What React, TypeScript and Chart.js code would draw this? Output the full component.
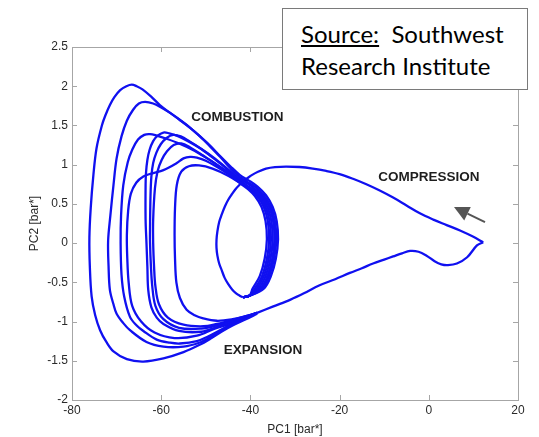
import React, { useEffect, useRef } from "react";
import { Chart, registerables } from "chart.js";

Chart.register(...registerables);

type P = [number, number];

// ---- axes ----
const xTicks = [-80, -60, -40, -20, 0, 20];
const yTicks = [-2, -1.5, -1, -0.5, 0, 0.5, 1, 1.5, 2, 2.5];
const xTitle = "PC1 [bar*]";
const yTitle = "PC2 [bar*]";

// ---- shared compression / expansion strokes ----
const compressionPath: P[] = [
  [12.2, 0.01], [10, 0.08], [7, 0.16], [4, 0.23], [1, 0.3], [-2, 0.38], [-5, 0.48], [-8, 0.58],
  [-11, 0.67], [-14, 0.75], [-17, 0.82], [-20, 0.88], [-23, 0.92], [-26, 0.95], [-29, 0.97],
  [-32, 0.975], [-34.5, 0.97], [-36.5, 0.95], [-38.3, 0.91], [-39.6, 0.87], [-40.6, 0.83], [-41.5, 0.79],
  [-42.3, 0.75], [-43.3, 0.69], [-44.2, 0.62], [-45, 0.55], [-45.7, 0.47], [-46.4, 0.37], [-47, 0.27],
  [-47.4, 0.15], [-47.6, 0.04], [-47.6, -0.06], [-47.4, -0.16], [-47, -0.26], [-46.4, -0.35],
  [-45.8, -0.44], [-45, -0.52], [-44.1, -0.59], [-43.2, -0.64], [-42.4, -0.67], [-41.7, -0.69],
];

const expansionPath: P[] = [
  [-38.5, -0.89], [-35, -0.81], [-31, -0.72], [-28, -0.64], [-24.6, -0.54], [-21, -0.46], [-17.7, -0.38],
  [-15, -0.32], [-12.5, -0.26], [-10, -0.21], [-8, -0.17], [-6, -0.13], [-4.2, -0.1], [-2.3, -0.11],
  [-0.5, -0.16], [1.3, -0.23], [2.8, -0.27], [4.3, -0.28], [6.3, -0.26], [8.6, -0.18], [10.8, -0.03],
  [12.2, 0.01],
];

// ---- individual cycles (inner ellipse right side + combustion loop) ----
const cycle1: P[] = [
  [-41.7, -0.69], [-40.2, -0.67], [-37, -0.58], [-35.4, -0.42], [-34.3, -0.2], [-33.8, 0.05], [-34.1, 0.28],
  [-35, 0.46], [-36.5, 0.61], [-38.4, 0.72], [-40.4, 0.8], [-42.4, 0.87], [-44.5, 0.98], [-46.8, 1.11],
  [-49, 1.24], [-51.3, 1.36], [-53.5, 1.47], [-55.8, 1.57], [-58, 1.66], [-60.3, 1.76], [-62.3, 1.87],
  [-64.2, 1.96], [-65.5, 2.0], [-66.6, 2.02], [-67.8, 2.0], [-69.2, 1.95], [-70.5, 1.86], [-71.5, 1.76],
  [-72.5, 1.63], [-73.3, 1.5], [-74.5, 1.21], [-75.2, 0.87], [-75.8, 0.45], [-76.1, 0.07], [-76, -0.3],
  [-75.6, -0.68], [-74.8, -0.92], [-73.7, -1.11], [-72.3, -1.26], [-70.7, -1.38], [-67.7, -1.48],
  [-64, -1.51], [-59.5, -1.47], [-55, -1.39], [-51.5, -1.3], [-49, -1.22], [-46.5, -1.13], [-44, -1.05],
  [-41, -0.97], [-38.5, -0.9],
];

const cycle2: P[] = [
  [-41.7, -0.69], [-40.2, -0.67], [-37.4, -0.58], [-35.8, -0.42], [-34.7, -0.2], [-34.2, 0.05], [-34.5, 0.28],
  [-35.4, 0.46], [-36.9, 0.6], [-38.8, 0.71], [-40.7, 0.78], [-42.6, 0.85], [-44.6, 0.96], [-46.8, 1.1],
  [-49, 1.23], [-51.3, 1.36], [-53.5, 1.47], [-55.8, 1.57], [-58, 1.66], [-60, 1.73], [-61.8, 1.78],
  [-63.6, 1.8], [-65, 1.78], [-66.3, 1.7], [-67.7, 1.56], [-68.9, 1.36], [-70, 1.08], [-70.7, 0.74],
  [-71.4, 0.35], [-71.9, 0.03], [-71.8, -0.3], [-71.5, -0.6], [-70.7, -0.78], [-70, -0.9], [-68.5, -1.02],
  [-67, -1.11], [-63.3, -1.26], [-59.5, -1.32], [-55, -1.32], [-51.5, -1.27], [-49, -1.2], [-46.5, -1.11],
  [-44, -1.04], [-41, -0.96], [-38.5, -0.89],
];

const cycle3: P[] = [
  [-41.7, -0.69], [-40.2, -0.67], [-37.8, -0.58], [-36.2, -0.42], [-35.1, -0.2], [-34.6, 0.05], [-34.9, 0.28],
  [-35.8, 0.46], [-37.3, 0.6], [-39.2, 0.7], [-41.5, 0.79], [-44, 0.87], [-47, 0.98], [-50, 1.09],
  [-53, 1.19], [-56, 1.27], [-58.8, 1.33], [-61, 1.37], [-62.5, 1.39], [-63.8, 1.38], [-65.2, 1.32],
  [-66.5, 1.19], [-67.5, 1.03], [-68.5, 0.74], [-69, 0.35], [-69.1, 0], [-68.9, -0.4], [-68.3, -0.68],
  [-67, -0.94], [-65.5, -1.05], [-64, -1.12], [-61, -1.23], [-58, -1.27], [-55.8, -1.28], [-52, -1.25],
  [-49.5, -1.19], [-46.5, -1.1], [-44, -1.03], [-41, -0.96], [-38.5, -0.89],
];

const cycle4: P[] = [
  [-41.7, -0.69], [-40.2, -0.67], [-38.2, -0.58], [-36.6, -0.42], [-35.5, -0.2], [-35, 0.05], [-35.3, 0.28],
  [-36.2, 0.46], [-37.7, 0.6], [-39.6, 0.69], [-42, 0.77], [-46, 0.92], [-50, 1.05], [-52, 1.09],
  [-53.5, 1.1], [-55, 1.08], [-56.5, 1.02], [-59.5, 0.93], [-62, 0.89], [-64, 0.85], [-65.6, 0.77],
  [-66.8, 0.63], [-67.4, 0.42], [-67.7, 0.1], [-67.6, -0.2], [-67.3, -0.5], [-66.5, -0.8], [-64.5, -1.0],
  [-61.5, -1.14], [-57, -1.21], [-52, -1.18], [-48, -1.09], [-44, -1.02], [-41, -0.95], [-38.5, -0.89],
];

const cycle5: P[] = [
  [-41.7, -0.69], [-40.2, -0.67], [-38.6, -0.58], [-37, -0.42], [-35.9, -0.2], [-35.4, 0.05], [-35.7, 0.28],
  [-36.6, 0.46], [-38.1, 0.6], [-40, 0.7], [-42, 0.79], [-45, 0.94], [-48, 1.08], [-51, 1.2],
  [-54, 1.3], [-56.5, 1.37], [-58.2, 1.4], [-59.5, 1.41], [-60.8, 1.37], [-61.8, 1.3], [-62.6, 1.19],
  [-63.1, 1.06], [-63.4, 0.9], [-63.5, 0.74], [-63.5, 0.3], [-63.3, 0], [-63.1, -0.3], [-62.9, -0.6],
  [-62.2, -0.82], [-61, -0.95], [-59.5, -1.03], [-56, -1.12], [-51, -1.13], [-47.5, -1.07], [-44, -1.0],
  [-41, -0.94], [-38.5, -0.89],
];

const cycle6: P[] = [
  [-41.7, -0.69], [-40.2, -0.67], [-39, -0.58], [-37.4, -0.42], [-36.3, -0.2], [-35.8, 0.05], [-36.1, 0.28],
  [-37, 0.46], [-38.5, 0.6], [-40.4, 0.7], [-42.3, 0.79], [-45, 0.93], [-48, 1.07], [-51, 1.2],
  [-53.7, 1.3], [-55.6, 1.36], [-57.3, 1.38], [-58.8, 1.34], [-60.1, 1.26], [-61.1, 1.15], [-61.8, 1.02],
  [-62.2, 0.85], [-62.4, 0.6], [-62.5, 0.2], [-62.5, 0], [-62.3, -0.3], [-62, -0.55], [-61.3, -0.8],
  [-59.5, -0.97], [-56, -1.08], [-51, -1.09], [-47.5, -1.05], [-44, -0.99], [-41, -0.94], [-38.5, -0.89],
];

const cycle7: P[] = [
  [-41.7, -0.69], [-40.2, -0.67], [-39.5, -0.58], [-37.9, -0.42], [-36.8, -0.2], [-36.3, 0.05], [-36.6, 0.28],
  [-37.5, 0.46], [-39, 0.6], [-40.6, 0.69], [-42.2, 0.76], [-45, 0.89], [-48, 1.02], [-51, 1.13],
  [-53.5, 1.22], [-55.5, 1.27], [-57.2, 1.25], [-58.7, 1.17], [-59.9, 1.06], [-60.8, 0.92], [-61.4, 0.7],
  [-61.8, 0.3], [-61.8, 0], [-61.6, -0.3], [-61.3, -0.55], [-60.5, -0.78], [-58.5, -0.95], [-55, -1.04],
  [-50.5, -1.06], [-47.5, -1.03], [-44, -0.98], [-41, -0.93], [-38.5, -0.89],
];

const cycle8: P[] = [
  [-41.7, -0.69], [-40.2, -0.67], [-37.6, -0.58], [-36, -0.42], [-34.9, -0.2], [-34.4, 0.05], [-34.7, 0.28],
  [-35.6, 0.46], [-37.1, 0.59], [-39, 0.67], [-41.5, 0.74], [-45, 0.86], [-48.5, 0.95], [-51.5, 0.99],
  [-53.8, 0.98], [-55.5, 0.91], [-56.5, 0.74], [-56.9, 0.45], [-57, 0.1], [-56.9, -0.2], [-56.6, -0.5],
  [-55.8, -0.7], [-54.3, -0.85], [-52.5, -0.92], [-50.6, -0.96], [-47.5, -0.99], [-44, -0.97],
  [-41, -0.93], [-38.5, -0.89],
];

const allPaths: P[][] = [
  compressionPath, expansionPath, cycle1, cycle2, cycle3, cycle4, cycle5, cycle6, cycle7, cycle8,
];

// ---- annotations (in data units) ----
const phaseNames = ["COMBUSTION", "COMPRESSION", "EXPANSION"];
const phaseX = [-42.9, 0.0, -37.2];
const phaseY = [1.61, 0.84, -1.365];
const arrowTail: P = [12.6, 0.268];
const arrowTip: P = [5.65, 0.459];

const LINE = "#1010f0";
const FONT = '"Liberation Sans", Arial, Helvetica, sans-serif';

const framePlugin = {
  id: "matlabFrame",
  afterDatasetsDraw(chart: any) {
    const { ctx, chartArea, scales } = chart;
    const { left, right, top, bottom } = chartArea;
    const xs = scales.x;
    const ys = scales.y;
    ctx.save();
    ctx.strokeStyle = "#a6a6a6";
    ctx.lineWidth = 1;
    ctx.strokeRect(Math.round(left) + 0.5, Math.round(top) + 0.5, Math.round(right - left), Math.round(bottom - top));
    ctx.beginPath();
    const tl = 5;
    xTicks.forEach((v) => {
      const px = Math.round(xs.getPixelForValue(v)) + 0.5;
      ctx.moveTo(px, bottom);
      ctx.lineTo(px, bottom - tl);
      ctx.moveTo(px, top);
      ctx.lineTo(px, top + tl);
    });
    yTicks.forEach((v) => {
      const py = Math.round(ys.getPixelForValue(v)) + 0.5;
      ctx.moveTo(left, py);
      ctx.lineTo(left + tl, py);
      ctx.moveTo(right, py);
      ctx.lineTo(right - tl, py);
    });
    ctx.stroke();

    // phase labels
    ctx.fillStyle = "#1e1e1e";
    ctx.font = `bold 13.5px ${FONT}`;
    ctx.textAlign = "center";
    ctx.textBaseline = "middle";
    phaseNames.forEach((t, i) => {
      ctx.fillText(t, xs.getPixelForValue(phaseX[i]), ys.getPixelForValue(phaseY[i]));
    });

    // direction arrow
    const x0 = xs.getPixelForValue(arrowTail[0]);
    const y0 = ys.getPixelForValue(arrowTail[1]);
    const x1 = xs.getPixelForValue(arrowTip[0]);
    const y1 = ys.getPixelForValue(arrowTip[1]);
    const ang = Math.atan2(y1 - y0, x1 - x0);
    const hl = 15;
    const hw = 7.5;
    const bx = x1 - hl * Math.cos(ang);
    const by = y1 - hl * Math.sin(ang);
    ctx.strokeStyle = "#555";
    ctx.fillStyle = "#555";
    ctx.lineWidth = 2;
    ctx.beginPath();
    ctx.moveTo(x0, y0);
    ctx.lineTo(bx, by);
    ctx.stroke();
    ctx.beginPath();
    ctx.moveTo(x1, y1);
    ctx.lineTo(bx + hw * Math.sin(ang), by - hw * Math.cos(ang));
    ctx.lineTo(bx - hw * Math.sin(ang), by + hw * Math.cos(ang));
    ctx.closePath();
    ctx.fill();
    ctx.restore();
  },
};

export default function App() {
  const ref = useRef<HTMLCanvasElement>(null);

  useEffect(() => {
    if (!ref.current) return;
    const datasets = allPaths.map((path) => ({
      data: path.map(([x, y]) => ({ x, y })),
      showLine: true,
      borderColor: LINE,
      backgroundColor: LINE,
      borderWidth: 2.3,
      pointRadius: 0,
      pointHoverRadius: 0,
      tension: 0.35,
      fill: false,
    }));
    const chart = new Chart(ref.current, {
      type: "scatter",
      data: { datasets },
      options: {
        responsive: false,
        animation: false,
        layout: { padding: { left: 22, right: 21, top: 47, bottom: 0 } },
        plugins: { legend: { display: false }, tooltip: { enabled: false } },
        scales: {
          x: {
            type: "linear",
            min: -80,
            max: 20,
            afterBuildTicks: (s: any) => {
              s.ticks = xTicks.map((v) => ({ value: v }));
            },
            afterFit: (s: any) => {
              s.height = 37;
            },
            grid: { display: false, drawTicks: false },
            border: { display: false },
            ticks: {
              padding: 3,
              color: "#2a2a2a",
              font: { family: FONT, size: 12 },
              callback: (v: any) => String(v),
            },
            title: {
              display: true,
              text: xTitle,
              color: "#2a2a2a",
              font: { family: FONT, size: 12 },
              padding: { top: 0, bottom: 0 },
            },
          },
          y: {
            type: "linear",
            min: -2,
            max: 2.5,
            afterBuildTicks: (s: any) => {
              s.ticks = yTicks.map((v) => ({ value: v }));
            },
            afterFit: (s: any) => {
              s.width = 50;
            },
            grid: { display: false, drawTicks: false },
            border: { display: false },
            ticks: {
              padding: 4,
              color: "#2a2a2a",
              font: { family: FONT, size: 12 },
              callback: (v: any) => String(v),
            },
            title: {
              display: true,
              text: yTitle,
              color: "#2a2a2a",
              font: { family: FONT, size: 12 },
              padding: { top: 5, bottom: 0 },
            },
          },
        },
      },
      plugins: [framePlugin],
    } as any);
    return () => chart.destroy();
  }, []);

  return (
    <div style={{ position: "absolute", left: 0, top: 0, width: 539, height: 437, background: "#fff" }}>
      <canvas ref={ref} width={539} height={437} style={{ display: "block" }} />
      <div
        style={{
          position: "absolute",
          left: 282,
          top: 8,
          width: 246,
          height: 82,
          boxSizing: "border-box",
          border: "1.5px solid #7a7a7a",
          background: "#fff",
          fontFamily: 'Lato, "Open Sans", sans-serif',
          fontSize: 24,
          lineHeight: "32px",
          paddingLeft: 18,
          paddingTop: 9,
          color: "#000",
          whiteSpace: "pre",
        }}
      >
        <div>
          <span style={{ textDecoration: "underline" }}>Source:</span>
          {"  Southwest"}
        </div>
        <div>Research Institute</div>
      </div>
    </div>
  );
}
